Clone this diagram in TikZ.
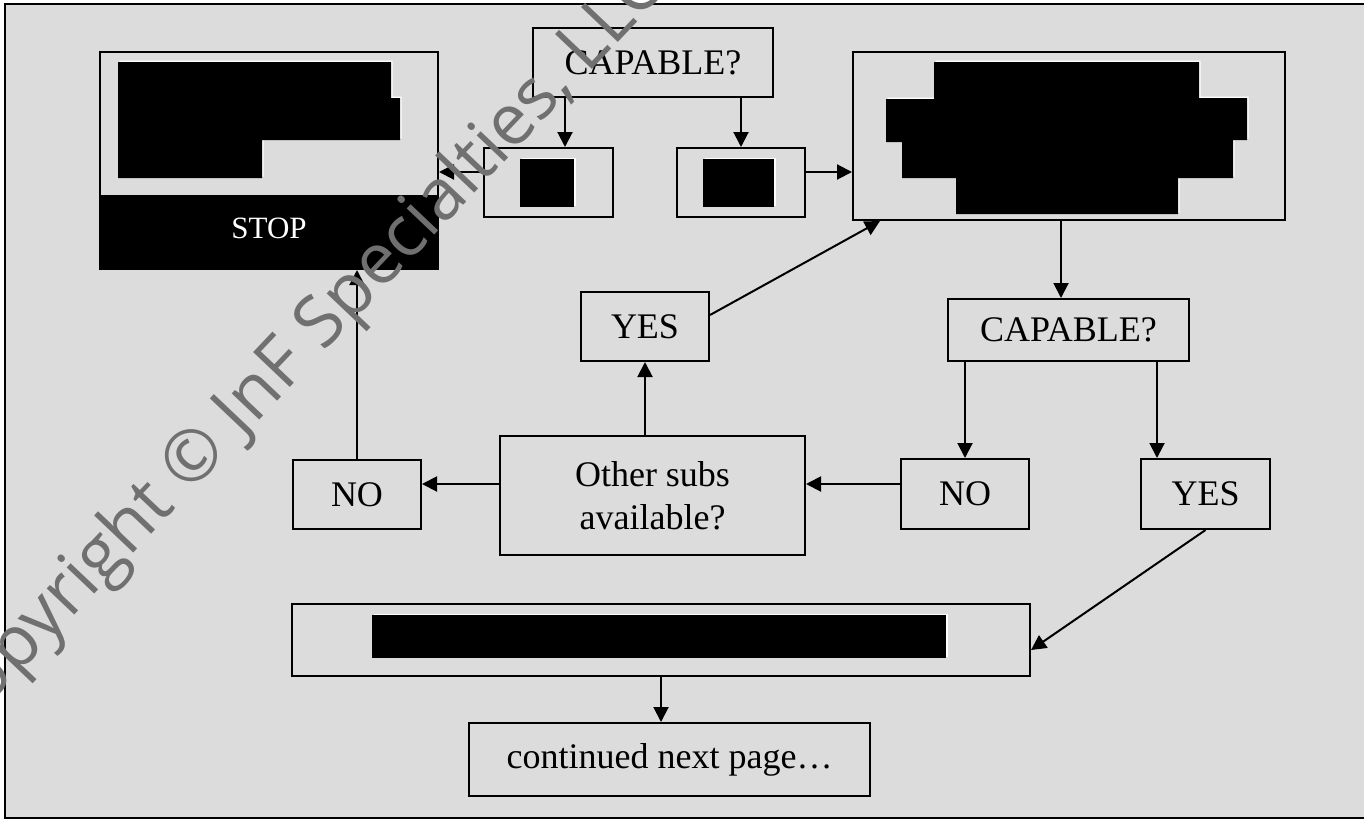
\documentclass[tikz,border=0pt]{standalone}
\usepackage{fontspec}
\setmainfont{Liberation Serif}
\newfontfamily\wmfont{Open Sans}
\usetikzlibrary{arrows.meta}
\definecolor{bg}{RGB}{220,220,220}
\definecolor{wmgray}{RGB}{112,112,112}
\begin{document}
\begin{tikzpicture}[x=1pt,y=-1pt,
  box/.style={draw=black, line width=2pt, fill=bg, inner sep=0pt, align=center,
    font=\fontsize{36}{43}\selectfont},
  arr/.style={line width=2pt, -{Triangle[length=15pt,width=15pt]}},
  redact/.style={fill=black},
  shine/.style={fill=white, shift={(1.5,-1.5)}},
  wm/.style={text=wmgray, font=\wmfont\fontsize{71}{80}\selectfont, inner sep=0pt}]
\useasboundingbox (0,0) rectangle (1364,820);
\clip (0,0) rectangle (1364,820);
\fill[white] (0,0) rectangle (1364,820);
\draw[line width=2pt, fill=bg] (5,4) rectangle (1368,818);

% helper coordinates
\coordinate (x565) at (565,0);
\coordinate (x1061) at (1061,0);
\coordinate (x1157) at (1157,0);
\coordinate (x880) at (880,0);
\coordinate (y172) at (0,172);
\coordinate (y484) at (0,484);
\coordinate (y315) at (0,315);
\coordinate (y650) at (0,650);

% nodes
\node[box, minimum width=338pt, minimum height=217pt] (stop) at (269,160.5) {};
\fill[black] (100,195) rectangle (438,269);
\draw[line width=2pt] (100,52) rectangle (438,269);
\node[text=white, font=\fontsize{31}{36}\selectfont, inner sep=0pt] (stoptxt) at (269,228) {STOP};
\fill[shine] (118,62) -- (391,62) -- (391,98) -- (400,98) -- (400,140) -- (262,140) -- (262,178) -- (118,178) -- cycle;
\fill[redact] (118,62) -- (391,62) -- (391,98) -- (400,98) -- (400,140) -- (262,140) -- (262,178) -- (118,178) -- cycle;

\node[box, minimum width=240pt, minimum height=69pt] (cap1) at (653,62.5) {CAPABLE?};
\node[box, minimum width=129pt, minimum height=69pt] (sm1) at (548.5,182.5) {};
\fill[shine] (520,159) rectangle (574,207);
\fill[redact] (520,159) rectangle (574,207);
\node[box, minimum width=128pt, minimum height=69pt] (sm2) at (741,182.5) {};
\fill[shine] (703,159) rectangle (774,207);
\fill[redact] (703,159) rectangle (774,207);

\node[box, minimum width=432pt, minimum height=168pt] (big) at (1069,136) {};
\fill[shine] (934,62) -- (1199,62) -- (1199,98) -- (1247,98) -- (1247,140) -- (1233,140) -- (1233,178) -- (1178,178) -- (1178,214) -- (956,214) -- (956,178) -- (902,178) -- (902,142) -- (886,142) -- (886,99) -- (934,99) -- cycle;
\fill[redact] (934,62) -- (1199,62) -- (1199,98) -- (1247,98) -- (1247,140) -- (1233,140) -- (1233,178) -- (1178,178) -- (1178,214) -- (956,214) -- (956,178) -- (902,178) -- (902,142) -- (886,142) -- (886,99) -- (934,99) -- cycle;

\node[box, minimum width=241pt, minimum height=62pt] (cap2) at (1068.5,330) {CAPABLE?};
\node[box, minimum width=128pt, minimum height=69pt] (yes1) at (645,326.5) {YES};
\node[box, minimum width=128pt, minimum height=69pt] (noL) at (357,494.5) {NO};
\node[box, minimum width=305pt, minimum height=119pt] (other) at (652.5,495.5) {Other subs\\available?};
\node[box, minimum width=128pt, minimum height=70pt] (noR) at (965,494) {NO};
\node[box, minimum width=129pt, minimum height=70pt] (yesR) at (1205.5,494) {YES};
\node[box, minimum width=738pt, minimum height=72pt] (long) at (661,640) {};
\fill[shine] (372,615) rectangle (946,658);
\fill[redact] (372,615) rectangle (946,658);
\node[box, minimum width=401pt, minimum height=73pt] (cont) at (669.5,759.5) {continued next page…};

% connectors
\draw[arr] (cap1.south -| x565) -- (sm1.north -| x565);
\draw[arr] (cap1.south -| sm2.north) -- (sm2.north);
\draw[arr] (sm1.west |- y172) -- (stop.east |- y172);
\draw[arr] (sm2.east |- y172) -- (big.west |- y172);
\draw[arr] (big.south -| x1061) -- (cap2.north -| x1061);
\draw[arr] (cap2.south -| noR.north) -- (noR.north);
\draw[arr] (cap2.south -| x1157) -- (yesR.north -| x1157);
\draw[arr] (noR.west |- y484) -- (other.east |- y484);
\draw[arr] (other.west |- y484) -- (noL.east |- y484);
\draw[arr] (other.north -| yes1.south) -- (yes1.south);
\draw[arr] (noL.north) -- (stop.south -| noL.north);
\draw[arr] (yes1.east |- y315) -- (big.south -| x880);
\draw[arr] (yesR.south) -- (long.east |- y650);
\draw[arr] (long.south) -- (cont.north -| long.south);

% watermark
\node[wm, rotate=46.5, anchor=base west] (wmark) at (-44,740) {Copyright © JnF Specialties, LLC};
\end{tikzpicture}
\end{document}
